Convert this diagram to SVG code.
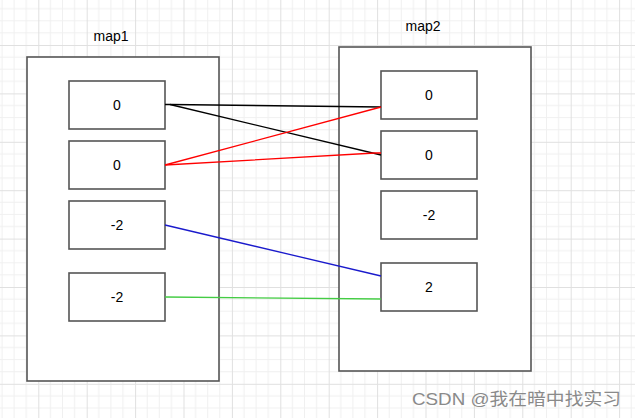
<svg xmlns="http://www.w3.org/2000/svg" width="635" height="418" viewBox="0 0 635 418">
  <defs>
    <pattern id="grid" x="38.3" y="45" width="48.4" height="48.4" patternUnits="userSpaceOnUse">
      <path d="M12.1 0V48.4M24.2 0V48.4M36.3 0V48.4M0 12.1H48.4M0 24.2H48.4M0 36.3H48.4" stroke="#f0f0f0" stroke-width="1" fill="none"/>
      <path d="M0.5 0V48.4M0 0.5H48.4" stroke="#e0e0e0" stroke-width="1" fill="none"/>
    </pattern>
    <style>
      .cont{fill:#ffffff;stroke:#555555;stroke-width:1.6}
      .cell{fill:#ffffff;stroke:#555555;stroke-width:1.6}
      .t{font-family:"Liberation Sans",Arial,sans-serif;font-size:14px;fill:#000000;text-anchor:middle}
      .c{fill:none;stroke-width:1.3}
      .wm{font-family:"Liberation Sans","Noto Sans CJK SC",sans-serif;font-size:17px;fill:#8a8a8a}
    </style>
  </defs>
  <rect width="635" height="418" fill="#ffffff"/>
  <rect width="635" height="418" fill="url(#grid)"/>

  <g id="map1">
    <rect class="cont" x="27" y="57" width="192" height="324"/>
    <text class="t" x="111" y="41">map1</text>
  </g>
  <g id="map2">
    <rect class="cont" x="339" y="47" width="192" height="324"/>
    <text class="t" x="423" y="31">map2</text>
  </g>

  <g id="m1a"><rect class="cell" x="69" y="81" width="96" height="48"/><text class="t" x="117" y="110">0</text></g>
  <g id="m1b"><rect class="cell" x="69" y="141" width="96" height="48"/><text class="t" x="117" y="170">0</text></g>
  <g id="m1c"><rect class="cell" x="69" y="201" width="96" height="48"/><text class="t" x="117" y="230">-2</text></g>
  <g id="m1d"><rect class="cell" x="69" y="273" width="96" height="48"/><text class="t" x="117" y="302">-2</text></g>

  <g id="m2a"><rect class="cell" x="381" y="71" width="96" height="48"/><text class="t" x="429" y="100">0</text></g>
  <g id="m2b"><rect class="cell" x="381" y="131" width="96" height="48"/><text class="t" x="429" y="160">0</text></g>
  <g id="m2c"><rect class="cell" x="381" y="191" width="96" height="48"/><text class="t" x="429" y="220">-2</text></g>
  <g id="m2d"><rect class="cell" x="381" y="263" width="96" height="48"/><text class="t" x="429" y="292">2</text></g>

  <g id="connectors">
    <polyline class="c" stroke="#000000" points="165,104.5 170,104.5 381,107"/>
    <polyline class="c" stroke="#000000" points="170,104.5 381,155"/>
    <polyline class="c" stroke="#ff0000" points="165,165 381,107"/>
    <polyline class="c" stroke="#ff0000" points="165,165 375,153 381,153"/>
    <polyline class="c" stroke="#1a1acc" points="165,225 381,276"/>
    <polyline class="c" stroke="#44cc44" points="165,297 381,299"/>
  </g>

  <text class="wm" x="412" y="405" textLength="209" lengthAdjust="spacingAndGlyphs">CSDN @我在暗中找实习</text>
</svg>
